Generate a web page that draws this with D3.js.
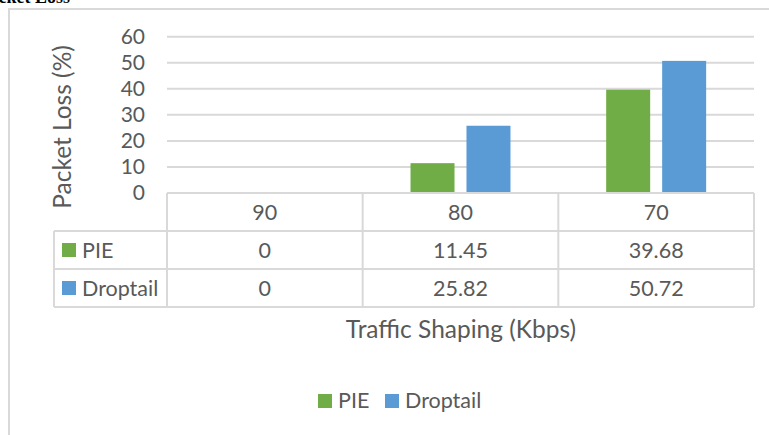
<!DOCTYPE html>
<html>
<head>
<meta charset="utf-8">
<script src="https://cdn.jsdelivr.net/npm/d3@7"></script>
<style>
  body { margin: 0; background: #fff; }
  svg { display: block; }
  text { font-family: Lato, "Open Sans", sans-serif; fill: #595959; }
</style>
</head>
<body>
<svg id="chart" width="769" height="435"></svg>
<script>
// data
const categories = ["90", "80", "70"];
const series = ["PIE", "Droptail"];
const pieValues = [0, 11.45, 39.68];
const droptailValues = [0, 25.82, 50.72];
const pieLabels = ["0", "11.45", "39.68"];
const droptailLabels = ["0", "25.82", "50.72"];
const yTicks = [0, 10, 20, 30, 40, 50, 60];

const colors = { PIE: "#70AD47", Droptail: "#5B9BD5" };
const values = { PIE: pieValues, Droptail: droptailValues };
const labels = { PIE: pieLabels, Droptail: droptailLabels };

const svg = d3.select("#chart");
const gridColor = "#D9D9D9";

// outer frame (cut by the picture edges)
svg.append("rect")
  .attr("x", 9).attr("y", 9)
  .attr("width", 820).attr("height", 500)
  .attr("fill", "none")
  .attr("stroke", gridColor)
  .attr("stroke-width", 2);

// clipped title at the top
svg.append("text")
  .attr("x", 70).attr("y", 3)
  .attr("text-anchor", "end")
  .style("font-family", "'Liberation Serif', serif")
  .style("font-weight", "bold")
  .style("font-size", "18px")
  .style("fill", "#000")
  .text("Packet Loss");

// scales
const x0 = d3.scaleBand()
  .domain(categories)
  .range([167, 754])
  .paddingInner(0)
  .paddingOuter(0);

const x1 = d3.scaleBand()
  .domain(series)
  .range([0, x0.bandwidth()])
  .paddingInner(0.214)
  .paddingOuter(0.855);

const y = d3.scaleLinear()
  .domain([0, 60])
  .range([193, 36.7]);

// gridlines
svg.append("g")
  .selectAll("line")
  .data(yTicks.filter(d => d > 0))
  .enter().append("line")
  .attr("x1", x0.range()[0])
  .attr("x2", x0.range()[1])
  .attr("y1", d => y(d))
  .attr("y2", d => y(d))
  .attr("stroke", gridColor)
  .attr("stroke-width", 2);

// y axis labels
const yAxis = svg.append("g")
  .attr("transform", "translate(150,0)")
  .call(d3.axisLeft(y).tickValues(yTicks).tickSize(0).tickPadding(5));
yAxis.select(".domain").remove();
yAxis.selectAll("text")
  .style("font-family", "Lato, 'Open Sans', sans-serif")
  .style("font-size", "21px")
  .attr("fill", "#595959");

// y axis title
svg.append("text")
  .attr("transform", "translate(71,127) rotate(-90)")
  .attr("text-anchor", "middle")
  .style("font-size", "24.5px")
  .text("Packet Loss (%)");

// bars
series.forEach(s => {
  svg.append("g")
    .selectAll("rect")
    .data(categories.map((c, i) => ({ c, v: values[s][i] })))
    .enter().append("rect")
    .attr("x", d => x0(d.c) + x1(s))
    .attr("y", d => y(d.v))
    .attr("width", x1.bandwidth())
    .attr("height", d => y(0) - y(d.v))
    .attr("fill", colors[s]);
});

// data table
const tableLeft = 54;
const rowTop = [193, 231, 269, 307];
const table = svg.append("g");
const border = (xa, ya, xb, yb) => table.append("line")
  .attr("x1", xa).attr("y1", ya).attr("x2", xb).attr("y2", yb)
  .attr("stroke", gridColor).attr("stroke-width", 2);

border(x0.range()[0], rowTop[0], x0.range()[1], rowTop[0]);
border(tableLeft, rowTop[1], x0.range()[1], rowTop[1]);
border(tableLeft, rowTop[2], x0.range()[1], rowTop[2]);
border(tableLeft, rowTop[3], x0.range()[1], rowTop[3]);
border(tableLeft, rowTop[1], tableLeft, rowTop[3]);
categories.forEach(c => border(x0(c), rowTop[0], x0(c), rowTop[3]));
border(x0.range()[1], rowTop[0], x0.range()[1], rowTop[3]);

// header
table.selectAll(".cat")
  .data(categories)
  .enter().append("text")
  .attr("x", d => x0(d) + x0.bandwidth() / 2)
  .attr("y", (rowTop[0] + rowTop[1]) / 2)
  .attr("dy", "0.36em")
  .attr("text-anchor", "middle")
  .style("font-size", "21.5px")
  .text(d => d);

// rows
series.forEach((s, r) => {
  const mid = (rowTop[r + 1] + rowTop[r + 2]) / 2;
  table.append("rect")
    .attr("x", 62).attr("y", mid - 7)
    .attr("width", 14).attr("height", 14)
    .attr("fill", colors[s]);
  table.append("text")
    .attr("x", 82).attr("y", mid)
    .attr("dy", "0.36em")
    .style("font-size", "21.5px")
    .text(s);
  table.selectAll(".v" + r)
    .data(categories.map((c, i) => ({ c, t: labels[s][i] })))
    .enter().append("text")
    .attr("x", d => x0(d.c) + x0.bandwidth() / 2)
    .attr("y", mid)
    .attr("dy", "0.36em")
    .attr("text-anchor", "middle")
    .style("font-size", "21.5px")
    .text(d => d.t);
});

// x axis title
svg.append("text")
  .attr("x", 461).attr("y", 338)
  .attr("text-anchor", "middle")
  .style("font-size", "24.5px")
  .text("Traffic Shaping (Kbps)");

// legend
const legendX = [318, 385];
const legend = svg.append("g");
series.forEach((s, i) => {
  legend.append("rect")
    .attr("x", legendX[i]).attr("y", 394)
    .attr("width", 14).attr("height", 14)
    .attr("fill", colors[s]);
  legend.append("text")
    .attr("x", legendX[i] + 20).attr("y", 408)
    .style("font-size", "21.5px")
    .text(s);
});
</script>
</body>
</html>
